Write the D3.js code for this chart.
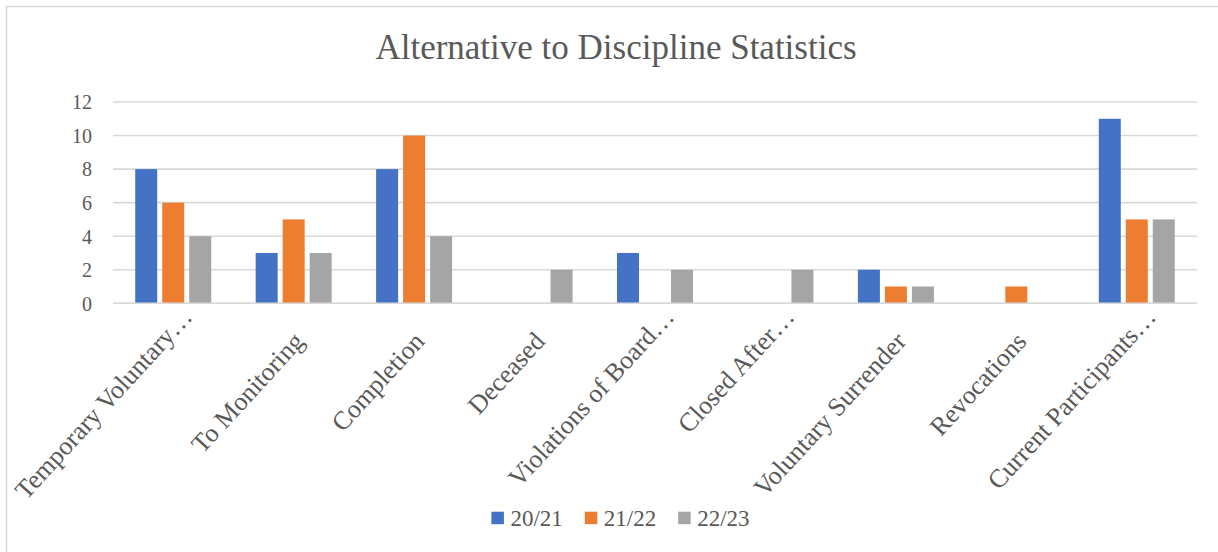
<!DOCTYPE html>
<html>
<head>
<meta charset="utf-8">
<script src="https://cdn.jsdelivr.net/npm/d3@7"></script>
<style>
  html, body { margin: 0; padding: 0; background: #ffffff; }
  svg { display: block; font-family: "Liberation Serif", "Times New Roman", serif; }
</style>
</head>
<body>
<svg id="chart" width="1218" height="552"></svg>
<script>
// Category labels as they appear on the axis (long names are clipped)
const categories = [
  "Temporary Voluntary\u2026",
  "To Monitoring",
  "Completion",
  "Deceased",
  "Violations of Board\u2026",
  "Closed After\u2026",
  "Voluntary Surrender",
  "Revocations",
  "Current Participants\u2026"
];
const seriesNames = ["20/21", "21/22", "22/23"];
const values2021 = [8, 3, 8, 0, 3, 0, 2, 0, 11];
const values2122 = [6, 5, 10, 0, 0, 0, 1, 1, 5];
const values2223 = [4, 3, 4, 2, 2, 2, 1, 0, 5];
const yTicks = [0, 2, 4, 6, 8, 10, 12];

const seriesValues = [values2021, values2122, values2223];
const colors = ["#4472C4", "#ED7D31", "#A5A5A5"];
const textColor = "#595959";
const gridColor = "#D9D9D9";

const svg = d3.select("#chart");
const W = 1218, H = 552;

// Chart frame
svg.append("rect").attr("x", 0).attr("y", 0).attr("width", W).attr("height", H).attr("fill", "#fff");
svg.append("rect")
  .attr("x", 6.5).attr("y", 6.5)
  .attr("width", W + 20).attr("height", H + 20)
  .attr("fill", "none").attr("stroke", gridColor).attr("stroke-width", 1.6);

// Plot area
const plot = { left: 113, right: 1197, top: 102, bottom: 303.3 };

const x0 = d3.scaleBand()
  .domain(categories)
  .range([plot.left, plot.right])
  .paddingInner(0.369)
  .paddingOuter(0.1845);

const x1 = d3.scaleBand()
  .domain(seriesNames)
  .range([0, x0.bandwidth()])
  .paddingInner(0.185);

const y = d3.scaleLinear().domain([0, 12]).range([plot.bottom, plot.top]);

// Title
svg.append("text")
  .attr("x", 616).attr("y", 59.3)
  .attr("text-anchor", "middle")
  .attr("fill", textColor)
  .attr("font-size", 35)
  .text("Alternative to Discipline Statistics");

// Horizontal gridlines
svg.append("g").selectAll("line")
  .data(yTicks)
  .join("line")
  .attr("x1", plot.left).attr("x2", plot.right)
  .attr("y1", d => y(d)).attr("y2", d => y(d))
  .attr("stroke", gridColor).attr("stroke-width", 1.6);

// Value axis labels
const yAxis = d3.axisLeft(y).tickValues(yTicks).tickSize(0).tickPadding(21);
const yg = svg.append("g").attr("transform", `translate(${plot.left},0)`).call(yAxis);
yg.select(".domain").remove();
yg.selectAll("text")
  .attr("fill", textColor)
  .attr("font-size", 20)
  .attr("font-family", "Liberation Serif, serif")
  .attr("dy", "0.34em");

// Bars
const rows = categories.map((c, i) => ({
  category: c,
  values: seriesNames.map((s, j) => ({ series: s, value: seriesValues[j][i], color: colors[j] }))
}));

const groups = svg.append("g").selectAll("g")
  .data(rows)
  .join("g")
  .attr("transform", d => `translate(${x0(d.category)},0)`);

groups.selectAll("rect")
  .data(d => d.values.filter(v => v.value > 0))
  .join("rect")
  .attr("x", d => x1(d.series))
  .attr("width", x1.bandwidth())
  .attr("y", d => y(d.value))
  .attr("height", d => y(0) - y(d.value))
  .attr("fill", d => d.color);

// Redraw the baseline on top of the bars
svg.append("line")
  .attr("x1", plot.left).attr("x2", plot.right)
  .attr("y1", y(0)).attr("y2", y(0))
  .attr("stroke", gridColor).attr("stroke-width", 1.6);

// Category labels, slanted up to the right
svg.append("g").selectAll("text")
  .data(categories)
  .join("text")
  .attr("transform", d => `translate(${x0(d) + x0.bandwidth() / 2},${plot.bottom}) rotate(-47.5)`)
  .attr("x", d => d.endsWith("\u2026") ? 3 : -21)
  .attr("y", d => d.endsWith("\u2026") ? 25 : 35)
  .attr("text-anchor", "end")
  .attr("fill", textColor)
  .attr("font-size", 26)
  .text(d => d);

// Legend, centred under the plot
const legend = svg.append("g");
const items = legend.selectAll("g")
  .data(seriesNames)
  .join("g");
items.append("rect")
  .attr("width", 12.5).attr("height", 12.5)
  .attr("y", 511.7)
  .attr("fill", (d, i) => colors[i]);
items.append("text")
  .attr("x", 19)
  .attr("y", 525.7)
  .attr("fill", textColor)
  .attr("font-size", 23)
  .text(d => d);

const widths = [];
items.each(function() {
  const w = d3.select(this).select("text").node().getComputedTextLength() + 19;
  widths.push(w);
});
const gap = 22;
const total = d3.sum(widths) + gap * (widths.length - 1);
let start = 620.5 - total / 2;
items.attr("transform", (d, i) => {
  const t = `translate(${start},0)`;
  start += widths[i] + gap;
  return t;
});
</script>
</body>
</html>
